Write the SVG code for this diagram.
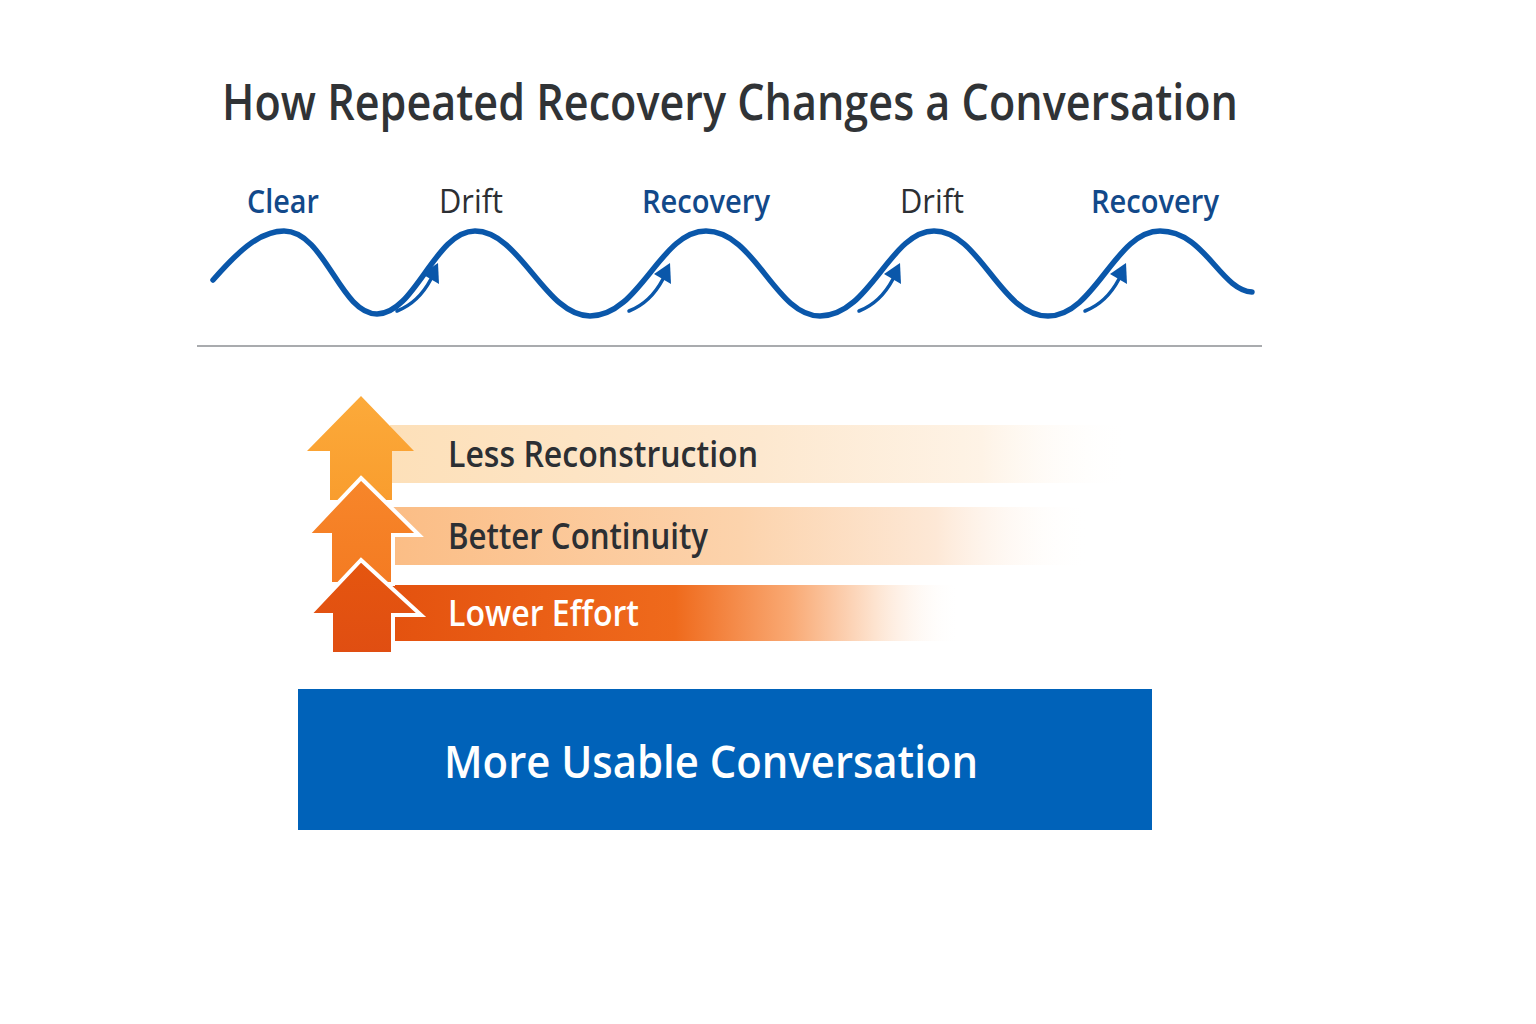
<svg xmlns="http://www.w3.org/2000/svg" width="1536" height="1024" viewBox="0 0 1536 1024">
<defs>
<style>
.title{font-family:"Open Sans","Noto Sans",sans-serif;font-size:50px;fill:#303336;font-weight:600}
.phase{font-family:"Open Sans","Noto Sans",sans-serif;font-size:33px}
.blue{fill:#12498a;font-weight:600}
.dark{fill:#2c2f33;font-weight:400}
.band{font-family:"Open Sans","Noto Sans",sans-serif;font-size:36px;font-weight:600}
.wave{fill:none;stroke:#0a57aa;stroke-width:5.5;stroke-linecap:round}
.swoosh{fill:none;stroke:#0a57aa;stroke-width:3.5;stroke-linecap:round}
.head{fill:#0a57aa}
</style>
<linearGradient id="g1" x1="390" y1="0" x2="1130" y2="0" gradientUnits="userSpaceOnUse">
<stop offset="0" stop-color="#fde0b9"/><stop offset="0.5" stop-color="#fde8cf"/><stop offset="0.8" stop-color="#fef3e6"/><stop offset="1" stop-color="#ffffff" stop-opacity="0"/>
</linearGradient>
<linearGradient id="g2" x1="390" y1="0" x2="1090" y2="0" gradientUnits="userSpaceOnUse">
<stop offset="0" stop-color="#fbbd85"/><stop offset="0.5" stop-color="#fcd3ac"/><stop offset="0.78" stop-color="#fde8d6"/><stop offset="1" stop-color="#ffffff" stop-opacity="0"/>
</linearGradient>
<linearGradient id="g3" x1="390" y1="0" x2="960" y2="0" gradientUnits="userSpaceOnUse">
<stop offset="0" stop-color="#e4520f"/><stop offset="0.5" stop-color="#ef6a1c"/><stop offset="0.7" stop-color="#f9a872"/><stop offset="0.85" stop-color="#fde3cf"/><stop offset="1" stop-color="#ffffff" stop-opacity="0"/>
</linearGradient>
<linearGradient id="a1" x1="0" y1="0" x2="0" y2="1"><stop offset="0" stop-color="#fcaa3a"/><stop offset="1" stop-color="#f99d2e"/></linearGradient>
<linearGradient id="a2" x1="0" y1="0" x2="0" y2="1"><stop offset="0" stop-color="#f7862a"/><stop offset="1" stop-color="#f47b22"/></linearGradient>
<linearGradient id="a3" x1="0" y1="0" x2="0" y2="1"><stop offset="0" stop-color="#e5560f"/><stop offset="1" stop-color="#e04e12"/></linearGradient>
<g id="swoosh">
<path class="swoosh" d="M397,311 C410,306 422,296 431,279"/>
<polygon class="head" points="438,263 422,274 439,284"/>
</g>
</defs>
<rect width="1536" height="1024" fill="#ffffff"/>

<g id="title">
<text class="title" x="730" y="120" text-anchor="middle" textLength="1016" lengthAdjust="spacingAndGlyphs">How Repeated Recovery Changes a Conversation</text>
</g>

<g id="wave">
<path class="wave" d="M213,280 C235,255 258,231 284,231 C325,231 340,314 377,314 C415,314 435,231 475,231 C520,231 545,316 590,316 C640,316 660,231 706,231 C755,231 775,316 820,316 C870,316 890,231 934,231 C980,231 1000,316 1048,316 C1095,316 1115,231 1160,231 C1205,231 1220,290 1252,292"/>
<use href="#swoosh"/>
<use href="#swoosh" transform="translate(232,0)"/>
<use href="#swoosh" transform="translate(462,0)"/>
<use href="#swoosh" transform="translate(688,0)"/>
</g>

<g id="labels">
<text class="phase blue" x="283" y="213" text-anchor="middle" textLength="72" lengthAdjust="spacingAndGlyphs">Clear</text>
<text class="phase dark" x="471" y="213" text-anchor="middle" textLength="64" lengthAdjust="spacingAndGlyphs">Drift</text>
<text class="phase blue" x="706" y="213" text-anchor="middle" textLength="128" lengthAdjust="spacingAndGlyphs">Recovery</text>
<text class="phase dark" x="932" y="213" text-anchor="middle" textLength="64" lengthAdjust="spacingAndGlyphs">Drift</text>
<text class="phase blue" x="1155" y="213" text-anchor="middle" textLength="128" lengthAdjust="spacingAndGlyphs">Recovery</text>
</g>

<g id="divider">
<line x1="197" y1="346" x2="1262" y2="346" stroke="#a9abae" stroke-width="2"/>
</g>

<g id="band-less">
<rect x="390" y="425" width="740" height="58" fill="url(#g1)"/>
<text class="band" x="448" y="467" fill="#2c2f33" textLength="310" lengthAdjust="spacingAndGlyphs">Less Reconstruction</text>
</g>
<g id="band-better">
<rect x="390" y="507" width="700" height="58" fill="url(#g2)"/>
<text class="band" x="448" y="549" fill="#2c2f33" textLength="260" lengthAdjust="spacingAndGlyphs">Better Continuity</text>
</g>
<g id="band-lower">
<rect x="390" y="585" width="570" height="56" fill="url(#g3)"/>
<text class="band" x="448" y="626" fill="#ffffff" textLength="191" lengthAdjust="spacingAndGlyphs">Lower Effort</text>
</g>

<g id="arrow-1">
<polygon points="361,396 414,451 392,451 392,500 330,500 330,451 307,451" fill="url(#a1)"/>
</g>
<g id="arrow-2">
<polygon points="361,478 419,535 393,535 393,584 330,584 330,535 307,535" fill="url(#a2)" stroke="#ffffff" stroke-width="4" stroke-linejoin="miter"/>
</g>
<g id="arrow-3">
<polygon points="361,560 421,615 393,615 393,654 331,654 331,615 309,615" fill="url(#a3)" stroke="#ffffff" stroke-width="4" stroke-linejoin="miter"/>
</g>

<g id="result">
<rect x="298" y="689" width="854" height="141" fill="#0062b9"/>
<text x="711" y="778" text-anchor="middle" font-family="'Open Sans','Noto Sans',sans-serif" font-size="46" font-weight="600" fill="#ffffff" textLength="534" lengthAdjust="spacingAndGlyphs">More Usable Conversation</text>
</g>
</svg>
